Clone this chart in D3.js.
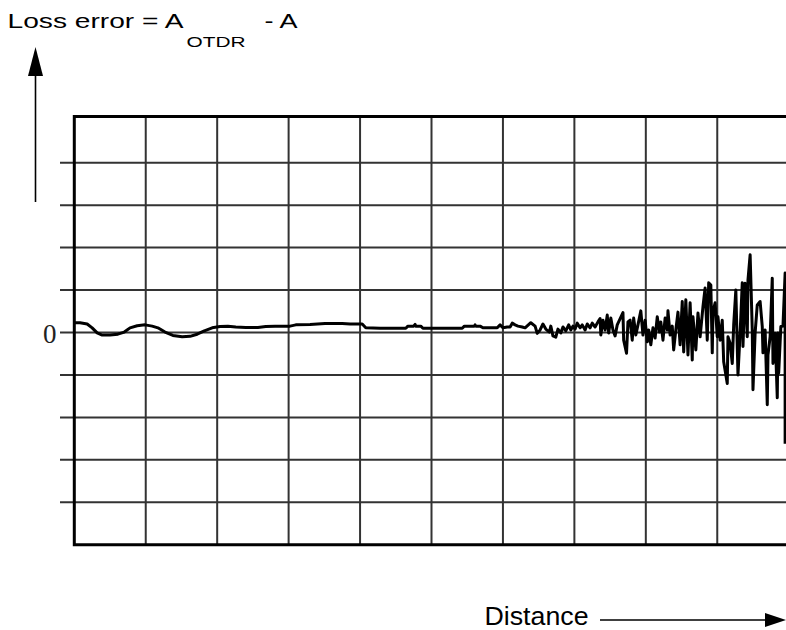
<!DOCTYPE html>
<html><head><meta charset="utf-8">
<script src="https://cdn.jsdelivr.net/npm/d3@7"></script>
<style>body{margin:0;background:#fff}svg{display:block}</style>
</head><body><svg id="c" width="786" height="630"></svg>
<script>
// Distance in grid divisions (0..10), loss error in grid divisions (-5..5)
const distance = [0.01,0.08,0.18,0.25,0.32,0.39,0.50,0.61,0.70,0.78,
0.88,0.99,1.09,1.17,1.27,1.38,1.51,1.62,1.72,1.82,
1.93,2.04,2.15,2.26,2.40,2.57,2.68,2.81,3.02,3.10,
3.30,3.51,3.75,3.86,4.03,4.08,4.28,4.64,4.67,4.75,
4.77,4.78,4.85,4.88,5.43,5.46,5.60,5.61,5.62,5.68,
5.72,5.92,5.96,6.00,6.06,6.10,6.13,6.17,6.21,6.27,
6.31,6.39,6.45,6.48,6.52,6.56,6.60,6.65,6.67,6.70,
6.74,6.77,6.81,6.84,6.88,6.92,6.95,6.98,7.01,7.04,
7.08,7.11,7.15,7.18,7.22,7.25,7.29,7.33,7.36,7.37,
7.40,7.43,7.46,7.48,7.51,7.54,7.57,7.60,7.68,7.69,
7.73,7.75,7.78,7.81,7.83,7.86,7.89,7.93,7.96,7.99,
8.02,8.04,8.07,8.10,8.13,8.16,8.19,8.21,8.24,8.27,
8.30,8.31,8.34,8.37,8.39,8.42,8.45,8.48,8.51,8.53,
8.56,8.59,8.62,8.65,8.66,8.70,8.73,8.76,8.80,8.83,
8.86,8.88,8.91,8.93,8.94,8.97,9.00,9.01,9.04,9.07,
9.09,9.14,9.15,9.18,9.21,9.23,9.26,9.29,9.32,9.35,
9.36,9.39,9.42,9.43,9.46,9.49,9.50,9.53,9.56,9.60,
9.63,9.64,9.67,9.70,9.71,9.74,9.77,9.78,9.81,9.84,
9.85,9.86,9.89,9.92,9.95,9.95];
const lossError = [0.23,0.23,0.20,0.11,-0.01,-0.06,-0.06,-0.04,0.01,0.11,
0.16,0.18,0.15,0.11,0.01,-0.07,-0.10,-0.09,-0.04,0.04,
0.11,0.14,0.15,0.13,0.12,0.12,0.14,0.15,0.15,0.18,
0.19,0.21,0.21,0.20,0.20,0.11,0.10,0.10,0.15,0.15,
0.19,0.15,0.15,0.10,0.10,0.15,0.15,0.18,0.15,0.15,
0.11,0.11,0.18,0.11,0.13,0.13,0.22,0.18,0.15,0.13,
0.11,0.23,0.15,-0.02,0.06,0.20,0.08,0.01,0.15,-0.08,
-0.11,0.08,-0.01,0.13,0.04,0.18,0.06,0.15,0.08,0.22,
0.11,0.18,0.06,0.20,0.11,0.22,0.13,0.25,0.33,-0.06,
0.29,0.06,0.41,-0.01,0.34,0.06,-0.08,0.18,0.47,-0.18,
-0.49,0.25,0.29,-0.18,0.34,-0.06,0.18,0.51,-0.06,0.29,
-0.22,0.06,-0.29,0.11,-0.13,0.37,0.01,0.25,-0.18,0.34,
0.06,0.51,-0.06,0.15,-0.41,0.06,0.48,-0.29,0.73,-0.46,
0.77,-0.53,0.70,-0.65,0.37,-0.41,0.46,-0.10,0.61,1.05,
-0.18,1.17,1.12,-0.48,0.49,0.70,-0.10,0.37,-0.18,0.29,
-0.69,-1.20,-0.10,-0.25,-0.73,0.18,1.00,-1.00,-0.01,1.17,
-0.33,1.16,-0.10,1.24,1.83,0.06,-1.35,-0.01,0.65,0.73,
0.14,-0.48,0.06,-1.70,-0.53,-0.10,1.28,-0.73,-0.02,-1.54,
-0.01,-0.95,0.14,0.15,1.40,-2.62];
const xGridTicks = [1,2,3,4,5,6,7,8,9];
const yGridTicks = [-4,-3,-2,-1,0,1,2,3,4];
const yTickLabels = [0];
const yLabel = "Loss error = A";
const ySub = "OTDR";
const yLabelTail = "- A";
const xLabel = "Distance";

const svg = d3.select("#c");
const W = 786;
const x = d3.scaleLinear().domain([0, 10]).range([74.3, 788.7]);
const y = d3.scaleLinear().domain([-5, 5]).range([544.7, 120.3]);
const frameTop = 116.5;

// grid
svg.append("g").selectAll("line").data(xGridTicks).join("line")
  .attr("x1", d => x(d)).attr("x2", d => x(d))
  .attr("y1", frameTop).attr("y2", y(-5))
  .attr("stroke", "#333").attr("stroke-width", 2);
svg.append("g").selectAll("line").data(yGridTicks).join("line")
  .attr("x1", 60).attr("x2", W)
  .attr("y1", d => y(d)).attr("y2", d => y(d))
  .attr("stroke", "#333").attr("stroke-width", 2);

// frame
svg.append("path")
  .attr("d", `M${W},${frameTop}H${x(0)}V${y(-5)}H${W}`)
  .attr("fill", "none").attr("stroke", "#000").attr("stroke-width", 3);

// tick label
svg.append("g").selectAll("text").data(yTickLabels).join("text")
  .attr("x", 56.5).attr("y", d => y(d) + 10.5)
  .attr("text-anchor", "end")
  .attr("font-family", "'Liberation Serif', 'DejaVu Serif', serif").attr("font-size", 27)
  .attr("fill", "#222")
  .text(d => d);

// curve
const pts = d3.zip(distance, lossError);
svg.append("path").datum(pts)
  .attr("d", d3.line().x(d => x(d[0])).y(d => y(d[1])))
  .attr("fill", "none").attr("stroke", "#000").attr("stroke-width", 3)
  .attr("stroke-linejoin", "round");

// y arrow
svg.append("line").attr("x1", 35.5).attr("x2", 35.5).attr("y1", 202).attr("y2", 70)
  .attr("stroke", "#000").attr("stroke-width", 1.6);
svg.append("path").attr("d", "M35.5,47L43,76L28,76Z").attr("fill", "#000");

// x arrow
svg.append("line").attr("x1", 600).attr("x2", 770).attr("y1", 620).attr("y2", 620)
  .attr("stroke", "#000").attr("stroke-width", 1.6);
svg.append("path").attr("d", "M786,620L765,613L765,627Z").attr("fill", "#000");

const sans = "'Liberation Sans', Arial, sans-serif";
// title
svg.append("text").attr("x", 7.5).attr("y", 28.3)
  .attr("font-family", sans).attr("font-size", 21)
  .attr("textLength", 176).attr("lengthAdjust", "spacingAndGlyphs")
  .text(yLabel);
svg.append("text").attr("x", 186.5).attr("y", 46.7)
  .attr("font-family", sans).attr("font-size", 15)
  .attr("textLength", 59).attr("lengthAdjust", "spacingAndGlyphs")
  .text(ySub);
svg.append("text").attr("x", 264.5).attr("y", 28.3)
  .attr("font-family", sans).attr("font-size", 21)
  .attr("textLength", 33).attr("lengthAdjust", "spacingAndGlyphs")
  .text(yLabelTail);

// x label
svg.append("text").attr("x", 484.5).attr("y", 625)
  .attr("font-family", sans).attr("font-size", 25)
  .attr("textLength", 104).attr("lengthAdjust", "spacingAndGlyphs")
  .text(xLabel);
</script>
</body></html>
